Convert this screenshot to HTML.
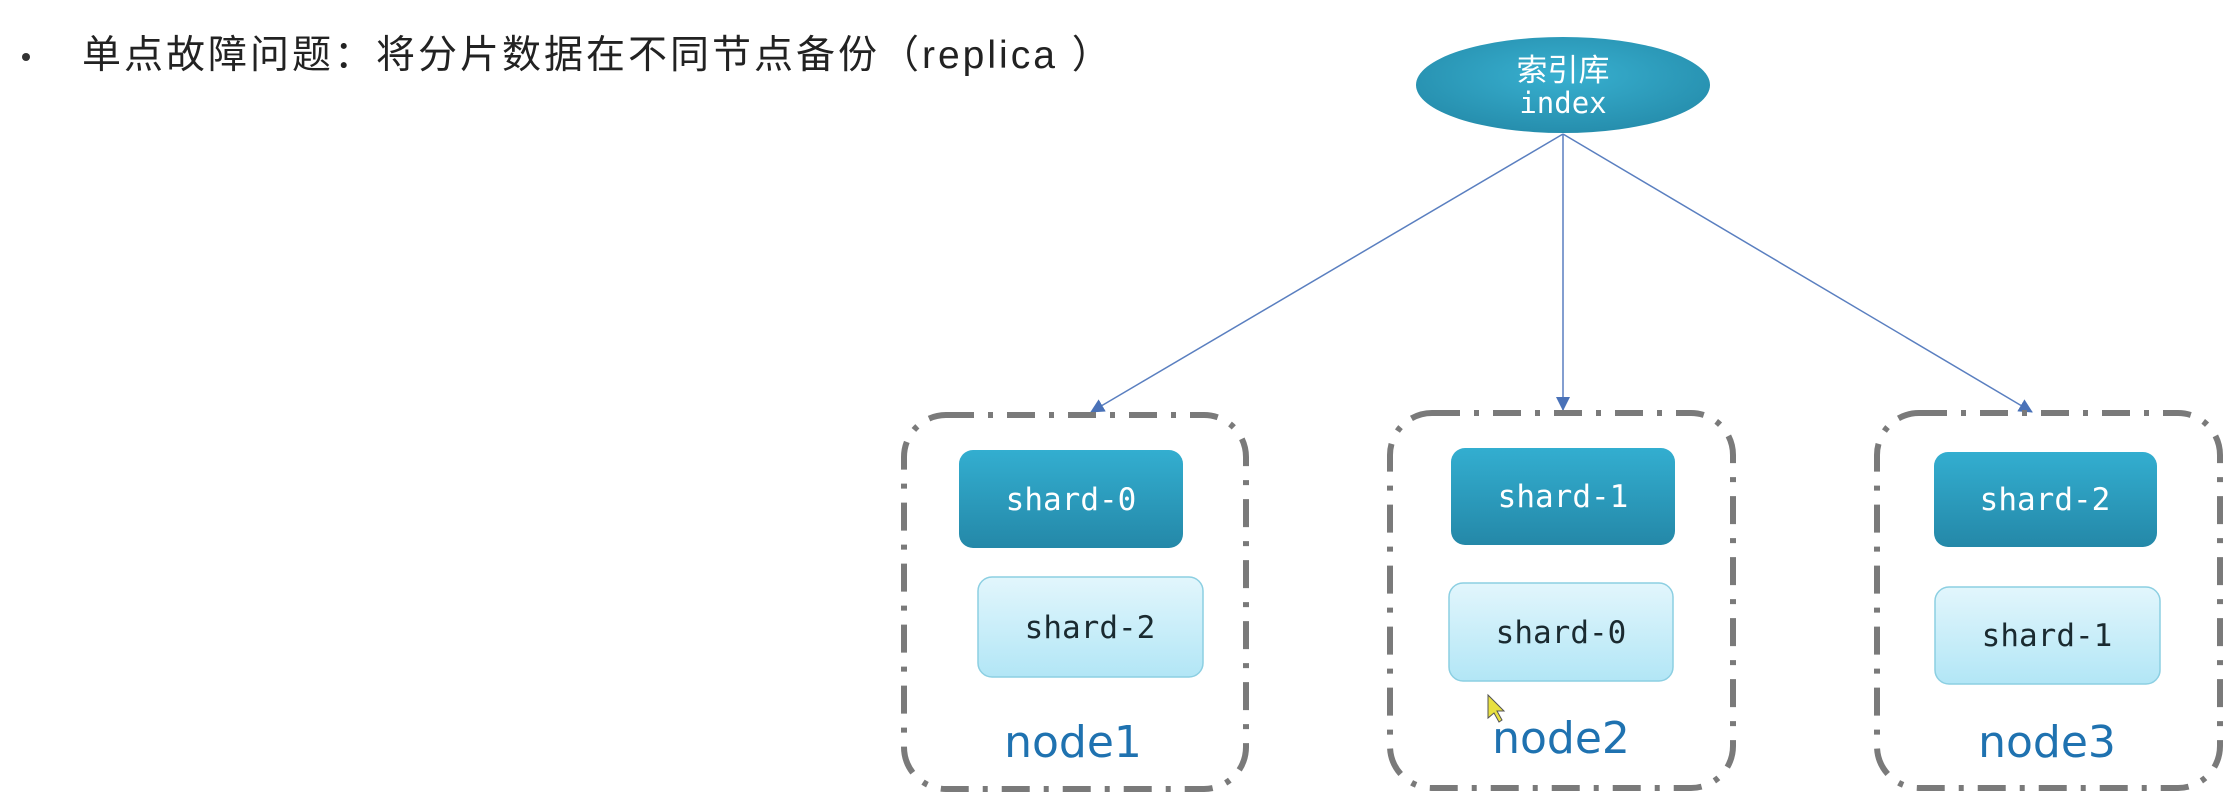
<!DOCTYPE html>
<html><head><meta charset="utf-8"><style>
html,body{margin:0;padding:0;background:#fff;width:2228px;height:811px;overflow:hidden}
</style></head><body>
<svg width="2228" height="811" viewBox="0 0 2228 811" xmlns="http://www.w3.org/2000/svg">
<defs>
<linearGradient id="dk" x1="0" y1="0" x2="0" y2="1"><stop offset="0" stop-color="#33aed0"/><stop offset="1" stop-color="#2488a8"/></linearGradient>
<linearGradient id="lt" x1="0" y1="0" x2="0" y2="1"><stop offset="0" stop-color="#e2f6fc"/><stop offset="1" stop-color="#b2e6f6"/></linearGradient>
<radialGradient id="el" cx="0.5" cy="0.4" r="0.6"><stop offset="0" stop-color="#38b0d0"/><stop offset="1" stop-color="#268ead"/></radialGradient>
<marker id="ar" markerWidth="14" markerHeight="14" refX="13" refY="7" orient="auto" markerUnits="userSpaceOnUse" viewBox="0 0 14 14"><path d="M0,0 L14,7 L0,14 z" fill="#4a72b8"/></marker>
</defs>
<circle cx="26" cy="57" r="4" fill="#333"/>
<text x="82" y="68" font-family="'Liberation Sans','Noto Sans CJK SC',sans-serif" font-size="39" letter-spacing="3" fill="#222">单点故障问题：将分片数据在不同节点备份（replica ）</text>

<g stroke="#5a7fc0" stroke-width="1.5" fill="none">
<line x1="1563" y1="134" x2="1091" y2="412" marker-end="url(#ar)"/>
<line x1="1563" y1="134" x2="1563" y2="410" marker-end="url(#ar)"/>
<line x1="1563" y1="134" x2="2032" y2="412" marker-end="url(#ar)"/>
</g>
<ellipse cx="1563" cy="85" rx="147" ry="48" fill="url(#el)"/>
<text x="1563" y="81" text-anchor="middle" font-family="'Liberation Sans','Noto Sans CJK SC',sans-serif" font-size="31" fill="#fff">索引库</text>
<text x="1563" y="113" text-anchor="middle" font-family="'DejaVu Sans Mono','Liberation Mono',monospace" font-size="29" fill="#fff">index</text>

<g fill="none" stroke="#7a7a7a" stroke-width="6" stroke-dasharray="28 14 5 14">
<rect x="904" y="415" width="342" height="374" rx="42"/>
<rect x="1390" y="413" width="343" height="375" rx="42"/>
<rect x="1877" y="413" width="343" height="375" rx="42"/>
</g>

<g font-family="'DejaVu Sans Mono','Liberation Mono',monospace" font-size="31" text-anchor="middle">
<rect x="959" y="450" width="224" height="98" rx="14" fill="url(#dk)"/>
<text x="1071" y="510" fill="#fff">shard-0</text>
<rect x="978" y="577" width="225" height="100" rx="14" fill="url(#lt)" stroke="#8ccfe2" stroke-width="1.5"/>
<text x="1090" y="638" fill="#1a2a30">shard-2</text>

<rect x="1451" y="448" width="224" height="97" rx="14" fill="url(#dk)"/>
<text x="1563" y="507" fill="#fff">shard-1</text>
<rect x="1449" y="583" width="224" height="98" rx="14" fill="url(#lt)" stroke="#8ccfe2" stroke-width="1.5"/>
<text x="1561" y="643" fill="#1a2a30">shard-0</text>

<rect x="1934" y="452" width="223" height="95" rx="14" fill="url(#dk)"/>
<text x="2045" y="510" fill="#fff">shard-2</text>
<rect x="1935" y="587" width="225" height="97" rx="14" fill="url(#lt)" stroke="#8ccfe2" stroke-width="1.5"/>
<text x="2047" y="646" fill="#1a2a30">shard-1</text>
</g>

<g font-family="'DejaVu Sans','Liberation Sans',sans-serif" font-size="44" fill="#1f72b0" text-anchor="middle">
<text x="1073" y="757">node1</text>
<text x="1561" y="753">node2</text>
<text x="2047" y="757">node3</text>
</g>
<path d="M1488,695 L1488,718 L1494,713 L1499,722 L1502,720 L1497,711 L1504,711 Z" fill="#e8e040" stroke="#555" stroke-width="1"/>
</svg>
</body></html>
